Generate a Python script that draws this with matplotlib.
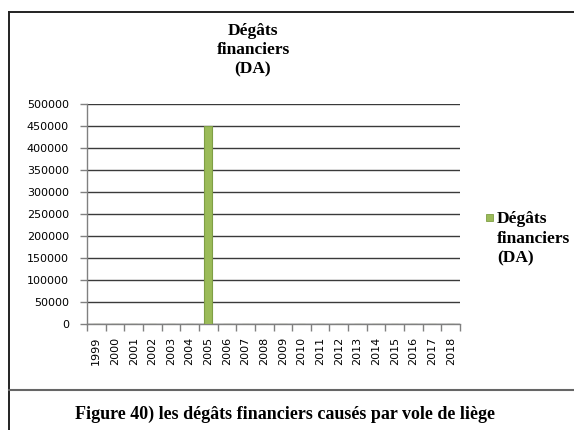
import matplotlib.pyplot as plt
from matplotlib.lines import Line2D
from matplotlib.patches import Rectangle
import numpy as np

# Data
years = [str(y) for y in range(1999, 2019)]
damages = [0, 0, 0, 0, 0, 0, 450000, 0, 0, 0, 0, 0, 0, 0, 0, 0, 0, 0, 0, 0]
series_name = "Dégâts\nfinanciers\n(DA)"
caption = "Figure 40) les dégâts financiers causés par vole de liège"

W, H = 574, 430
fig = plt.figure(figsize=(W / 100, H / 100), dpi=100)
ax = fig.add_axes([87 / W, 1 - 324 / H, (460 - 87) / W, (324 - 104) / H])

x = np.arange(len(years))
ax.bar(x, damages, width=0.4, color="#9BBB59", edgecolor="#7F9F45",
       linewidth=0.8, zorder=3)

ax.set_xlim(-0.5, len(years) - 0.5)
ax.set_ylim(0, 500000)
ax.set_yticks(np.arange(0, 500001, 50000))
ax.yaxis.grid(True, color="#3a3a3a", linewidth=1, zorder=0)
ax.set_axisbelow(True)

ax.set_xticks(x)
ax.set_xticklabels(years, rotation=90, fontsize=8, family="DejaVu Sans")
ax.set_xticks(np.arange(-0.5, len(years), 1), minor=True)
ax.tick_params(axis="x", which="major", length=0, pad=9)
ax.tick_params(axis="x", which="minor", length=5, color="#808080", width=1)
ax.tick_params(axis="y", length=5, color="#808080", width=1, labelsize=8, pad=8)
for lab in ax.get_yticklabels():
    lab.set_family("DejaVu Sans")

for s in ["top", "right"]:
    ax.spines[s].set_visible(False)
for s in ["left", "bottom"]:
    ax.spines[s].set_color("#808080")
    ax.spines[s].set_linewidth(1)

# Title
fig.text(253 / W, 1 - 23 / H, series_name, ha="center", va="top",
         fontsize=12.5, fontweight="bold", family="Liberation Serif",
         linespacing=1.25)

# Legend (marker aligned with first text line)
fig.add_artist(Rectangle((486 / W, 1 - 221 / H), 7 / W, 7 / H,
                         facecolor="#9BBB59", edgecolor="#7F9F45",
                         linewidth=0.6, transform=fig.transFigure))
fig.text(497 / W, 1 - 211 / H, series_name, ha="left", va="top",
         fontsize=12.5, fontweight="bold", family="Liberation Serif",
         linespacing=1.3)

# Caption
fig.text(285 / W, 1 - 414 / H, caption, ha="center", va="center",
         fontsize=13, fontweight="bold", family="Liberation Serif")

# Page frame lines
frame_kw = dict(color="#222222", linewidth=1.4, transform=fig.transFigure)
fig.add_artist(Line2D([9 / W, 9 / W], [0, 1 - 12 / H], **frame_kw))
fig.add_artist(Line2D([9 / W, 1], [1 - 12 / H, 1 - 12 / H], **frame_kw))
fig.add_artist(Line2D([9 / W, 1], [1 - 390 / H, 1 - 390 / H],
                      color="#666666", linewidth=1.5, transform=fig.transFigure))

fig.savefig("out.png", dpi=100)
